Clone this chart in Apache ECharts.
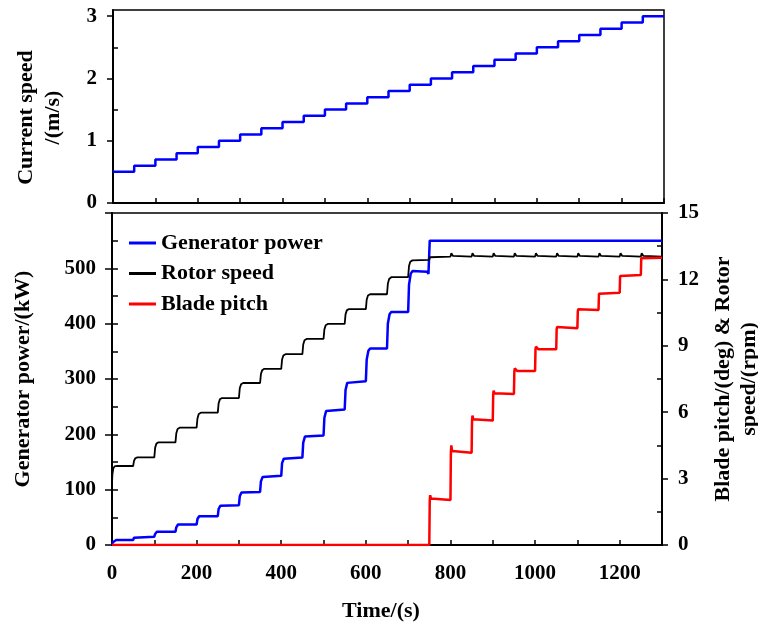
<!DOCTYPE html>
<html>
<head>
<meta charset="utf-8">
<script src="https://cdn.jsdelivr.net/npm/echarts@6/dist/echarts.min.js"></script>
<style>html,body{margin:0;padding:0;background:#fff}#c{width:758px;height:626px}</style>
</head>
<body>
<div id="c"></div>
<script>
// ---- data ----
const speedTimes = [0,50,100,150,200,250,300,350,400,450,500,550,600,650,700,750,800,850,900,950,1000,1050,1100,1150,1200,1250,1300];
const speedValues = [0.5,0.6,0.7,0.8,0.9,1.0,1.1,1.2,1.3,1.4,1.5,1.6,1.7,1.8,1.9,2.0,2.1,2.2,2.3,2.4,2.5,2.6,2.7,2.8,2.9,3.0,3.0];

const powerData = [
[0,0],[2,5],[5,8],[10,9],[50,9],[52,13],[56,15],[100,15],[102,20],[106,24],[150,24],[152,32],[156,37],
[200,37],[202,47],[206,52],[250,52],[252,65],[256,71],[260,72],[300,72],[302,88],[306,95],[310,96],
[350,96],[352,115],[356,123],[360,125],[400,125],[402,148],[406,156],[410,158],[450,158],[452,185],[456,196],[460,198],
[500,198],[502,230],[506,242],[510,245],[550,245],[552,280],[556,293],[560,296],[600,296],[602,335],[606,351],[610,355],
[650,355],[652,400],[656,417],[660,421],[700,421],[702,470],[706,490],[710,495],[745,494],[748,490],[750,490],[751,550],[1300,550]
];

const rotorData = [
[0,2.8],[1,3.2],[3,3.45],[6,3.55],[12,3.57],[50,3.57],[52,3.8],[55,3.92],[60,3.96],[100,3.96],[102,4.4],[105,4.58],[110,4.64],
[150,4.64],[152,5.05],[155,5.24],[160,5.3],[200,5.3],[202,5.72],[205,5.92],[210,5.98],[250,5.98],[252,6.4],[255,6.58],[260,6.64],
[300,6.64],[302,7.08],[305,7.26],[310,7.32],[350,7.32],[352,7.72],[355,7.9],[360,7.96],[400,7.96],[402,8.38],[405,8.56],[410,8.62],
[450,8.62],[452,9.06],[455,9.25],[460,9.31],[500,9.31],[502,9.74],[505,9.93],[510,9.99],[550,9.99],[552,10.42],[555,10.6],[560,10.66],
[600,10.66],[602,11.08],[605,11.27],[610,11.33],[650,11.33],[652,11.8],[655,12.02],[660,12.1],[700,12.1],[702,12.6],[705,12.8],[710,12.86],
[750,12.88],[751,13.0],[753,13.03],[800,13.03],[802,13.18],[806,13.06],[810,13.03],[850,13.03],[852,13.18],[856,13.06],[860,13.03],
[900,13.03],[902,13.18],[906,13.06],[910,13.03],[950,13.03],[952,13.18],[956,13.06],[960,13.03],[1000,13.03],[1002,13.18],[1006,13.06],[1010,13.03],
[1050,13.03],[1052,13.18],[1056,13.06],[1060,13.03],[1100,13.03],[1102,13.18],[1106,13.06],[1110,13.03],[1150,13.03],[1152,13.18],[1156,13.06],[1160,13.03],
[1200,13.03],[1202,13.18],[1206,13.06],[1210,13.03],[1250,13.03],[1252,13.18],[1256,13.06],[1260,13.03],[1300,13.03]
];

const pitchData = [
[0,0],[750,0],[751,2.0],[752,2.25],[754,2.1],[758,2.03],[800,2.03],[801,4.2],[802,4.5],[804,4.25],[808,4.17],
[850,4.17],[851,5.6],[852,5.85],[854,5.68],[858,5.62],[900,5.62],[901,6.8],[902,6.98],[904,6.86],[908,6.82],
[950,6.82],[951,7.85],[952,7.98],[954,7.9],[958,7.86],[1000,7.86],[1001,8.85],[1002,8.96],[1004,8.88],[1008,8.84],
[1050,8.84],[1051,9.75],[1052,9.85],[1055,9.79],[1100,9.79],[1101,10.55],[1102,10.65],[1105,10.62],
[1150,10.62],[1151,11.35],[1152,11.43],[1155,11.4],[1200,11.4],[1201,12.15],[1202,12.22],[1205,12.2],
[1250,12.2],[1251,12.95],[1253,12.98],[1300,12.98]
];

const topYLabels = [0,1,2,3];
const topYMinor = [0.5,1.5,2.5];
const powerLabels = [0,100,200,300,400,500];
const powerTicks = [0,100,200,300,400,500,600];
const powerInner = [50,100,150,200,250,300,350,400,450,500,550];
const rightLabels = [0,3,6,9,12,15];
const rightMinor = [1.5,4.5,7.5,10.5,13.5];
const timeLabels = [0,200,400,600,800,1000,1200];
const seriesNames = ['Generator power','Rotor speed','Blade pitch'];

// ---- chart ----
const FF = '"Liberation Serif","Times New Roman",serif';
const txt = {fontFamily: FF, fontWeight: 'bold', fontSize: 21, color: '#000'};
const nameTxt = {fontFamily: FF, fontWeight: 'bold', fontSize: 22, color: '#000'};
const axLine = {show: true, onZero: false, lineStyle: {color: '#000', width: 2}};
const tickStyle = {color: '#000', width: 1.5};
const plain = v => String(v);

const speedSeries = speedTimes.map((t, i) => [t, speedValues[i]]);

const chart = echarts.init(document.getElementById('c'), null, {renderer: 'canvas'});
chart.setOption({
  animation: false,
  backgroundColor: '#fff',
  grid: [
    {left: 113, right: 94, top: 10, height: 193, show: true, borderColor: '#000', borderWidth: 1.5, containLabel: false, outerBoundsMode: 'none'},
    {left: 112, right: 96, top: 213, height: 332, show: true, borderColor: '#000', borderWidth: 1.5, containLabel: false, outerBoundsMode: 'none'}
  ],
  legend: {
    left: 124, top: 227, orient: 'vertical', itemGap: 8.5, itemWidth: 27, itemHeight: 3,
    icon: 'rect', textStyle: nameTxt, data: seriesNames, selectedMode: false
  },
  xAxis: [
    {gridIndex: 0, type: 'value', min: 0, max: 1300, interval: 100, axisLine: axLine,
     axisTick: {inside: true, length: 5, lineStyle: tickStyle}, axisLabel: {show: false}, splitLine: {show: false}},
    {gridIndex: 1, type: 'value', min: 0, max: 1300, interval: 100, axisLine: axLine,
     axisTick: {inside: true, length: 5, lineStyle: tickStyle},
     axisLabel: Object.assign({margin: 18, customValues: timeLabels, formatter: plain}, txt), splitLine: {show: false},
     name: 'Time/(s)', nameLocation: 'middle', nameGap: 55, nameTextStyle: Object.assign({}, nameTxt, {padding: [0, 12, 0, 0]})}
  ],
  yAxis: [
    {gridIndex: 0, type: 'value', min: 0, max: 3.1, position: 'left', axisLine: axLine,
     axisTick: {inside: false, length: 6, lineStyle: tickStyle, customValues: topYLabels},
     axisLabel: Object.assign({margin: 16, customValues: topYLabels, formatter: plain}, txt), splitLine: {show: false},
     name: '{a|Current speed}\n{a|/(m/s)}', nameLocation: 'middle', nameGap: 46, nameRotate: 90,
     nameTextStyle: Object.assign({}, nameTxt, {lineHeight: 27, rich: {a: Object.assign({}, nameTxt, {lineHeight: 27, padding: [0, 22, 0, 0]})}})},
    {gridIndex: 0, type: 'value', min: 0, max: 3.1, position: 'left', axisLine: {show: false},
     axisTick: {inside: true, length: 5, lineStyle: tickStyle, customValues: topYMinor},
     axisLabel: {show: false}, splitLine: {show: false}},
    {gridIndex: 1, type: 'value', min: 0, max: 600, position: 'left', axisLine: axLine,
     axisTick: {inside: false, length: 7, lineStyle: tickStyle, customValues: powerTicks},
     axisLabel: Object.assign({margin: 16, customValues: powerLabels, formatter: plain}, txt), splitLine: {show: false},
     name: 'Generator power/(kW)', nameLocation: 'middle', nameGap: 78, nameRotate: 90, nameTextStyle: nameTxt},
    {gridIndex: 1, type: 'value', min: 0, max: 600, position: 'left', axisLine: {show: false},
     axisTick: {inside: true, length: 6, lineStyle: tickStyle, customValues: powerInner},
     axisLabel: {show: false}, splitLine: {show: false}},
    {gridIndex: 1, type: 'value', min: 0, max: 15, position: 'right', axisLine: axLine,
     axisTick: {inside: false, length: 6, lineStyle: tickStyle, customValues: rightLabels},
     axisLabel: Object.assign({margin: 16, customValues: rightLabels, formatter: plain}, txt), splitLine: {show: false},
     name: 'Blade pitch/(deg) & Rotor\nspeed/(rpm)', nameLocation: 'middle', nameGap: 47, nameRotate: 90,
     nameTextStyle: Object.assign({}, nameTxt, {lineHeight: 26})},
    {gridIndex: 1, type: 'value', min: 0, max: 15, position: 'right', axisLine: {show: false},
     axisTick: {inside: true, length: 5, lineStyle: tickStyle, customValues: rightMinor},
     axisLabel: {show: false}, splitLine: {show: false}}
  ],
  series: [
    {name: 'Current speed', type: 'line', xAxisIndex: 0, yAxisIndex: 0, step: 'end', showSymbol: false,
     data: speedSeries, lineStyle: {color: '#0000FF', width: 2.5}, itemStyle: {color: '#0000FF'}},
    {name: seriesNames[0], type: 'line', xAxisIndex: 1, yAxisIndex: 2, showSymbol: false,
     data: powerData, lineStyle: {color: '#0000FF', width: 2.5}, itemStyle: {color: '#0000FF'}},
    {name: seriesNames[1], type: 'line', xAxisIndex: 1, yAxisIndex: 4, showSymbol: false,
     data: rotorData, lineStyle: {color: '#000000', width: 1.8}, itemStyle: {color: '#000000'}},
    {name: seriesNames[2], type: 'line', xAxisIndex: 1, yAxisIndex: 4, showSymbol: false,
     data: pitchData, lineStyle: {color: '#FF0000', width: 2.5}, itemStyle: {color: '#FF0000'}}
  ]
});
</script>
</body>
</html>
